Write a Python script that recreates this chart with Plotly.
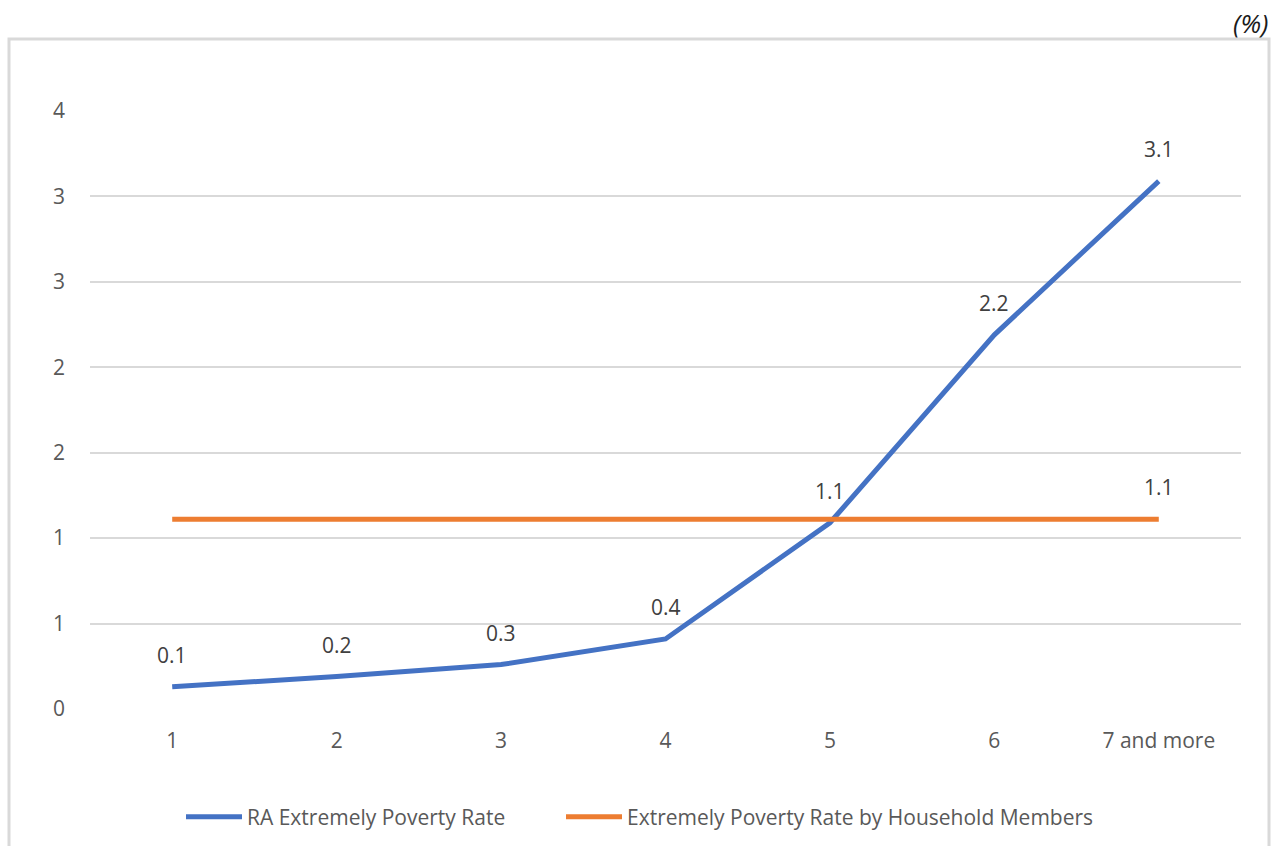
import plotly.graph_objects as go

# Household size categories and extreme poverty rates (%)
categories = ["1", "2", "3", "4", "5", "6", "7 and more"]
ra_rate = [0.13, 0.19, 0.26, 0.41, 1.09, 2.19, 3.09]
household_rate = [1.11, 1.11, 1.11, 1.11, 1.11, 1.11, 1.11]

y_tick_vals = [0, 0.5, 1.0, 1.5, 2.0, 2.5, 3.0, 3.5]
y_tick_text = ["0", "1", "1", "2", "2", "3", "3", "4"]

BLUE = "#4472C4"
ORANGE = "#ED7D31"
GRID = "#D9D9D9"
FONT = "Open Sans"
FS = 21

W, H = 1282, 846
ML, MR, MT, MB = 90, 41, 111, 137
PW, PH = W - ML - MR, H - MT - MB


def px_x(px):
    return (px - ML) / PW


def px_y(py):
    return (H - MB - py) / PH


fig = go.Figure()
fig.add_trace(go.Scatter(
    x=categories, y=ra_rate, mode="lines",
    name="RA Extremely Poverty Rate",
    line=dict(color=BLUE, width=5), legend="legend",
))
fig.add_trace(go.Scatter(
    x=categories, y=household_rate, mode="lines",
    name="Extremely Poverty Rate by Household Members",
    line=dict(color=ORANGE, width=5), legend="legend2",
))

annotations = []
# value labels above each point of the blue series (category index as x)
for i, v in enumerate(ra_rate):
    annotations.append(dict(
        x=i, y=v, xref="x", yref="y", text=f"{v:.1f}", showarrow=False,
        yshift=32, font=dict(family=FONT, size=FS, color="#404040"),
    ))
# value label on the last point of the orange series
last = len(household_rate) - 1
annotations.append(dict(
    x=last, y=household_rate[last], xref="x", yref="y",
    text=f"{household_rate[last]:.1f}", showarrow=False, yshift=32,
    font=dict(family=FONT, size=FS, color="#404040"),
))
annotations.append(dict(
    x=px_x(1270), y=px_y(23), xref="paper", yref="paper",
    xanchor="right", yanchor="middle", text="<i>(%)</i>", showarrow=False,
    font=dict(family=FONT, size=26, color="#1a1a1a"),
))

legend_style = dict(
    orientation="h", yanchor="middle", y=px_y(817), xanchor="left",
    font=dict(family=FONT, size=FS, color="#595959"),
    itemwidth=56, bgcolor="rgba(0,0,0,0)",
)

fig.update_layout(
    width=W, height=H,
    margin=dict(l=ML, r=MR, t=MT, b=MB, autoexpand=False),
    paper_bgcolor="white", plot_bgcolor="white",
    font=dict(family=FONT, size=FS, color="#595959"),
    showlegend=True,
    legend=dict(legend_style, x=px_x(181)),
    legend2=dict(legend_style, x=px_x(561)),
    xaxis=dict(
        type="category", range=[-0.5, 6.5], showgrid=False,
        showline=False, zeroline=False, ticks="",
        tickfont=dict(family=FONT, size=FS, color="#595959"),
        ticklabelstandoff=17,
    ),
    yaxis=dict(
        range=[0, 3.5], tickvals=y_tick_vals, ticktext=y_tick_text,
        showgrid=True, gridcolor=GRID, gridwidth=2,
        zeroline=False, showline=False, ticks="",
        tickfont=dict(family=FONT, size=FS, color="#595959"),
        ticklabelstandoff=24,
    ),
    annotations=annotations,
    shapes=[dict(
        type="rect", xref="paper", yref="paper",
        x0=px_x(9), x1=px_x(1269), y0=px_y(900), y1=px_y(39),
        line=dict(color=GRID, width=3), fillcolor="rgba(0,0,0,0)",
        layer="below",
    )],
)

fig.write_html("out.html")
